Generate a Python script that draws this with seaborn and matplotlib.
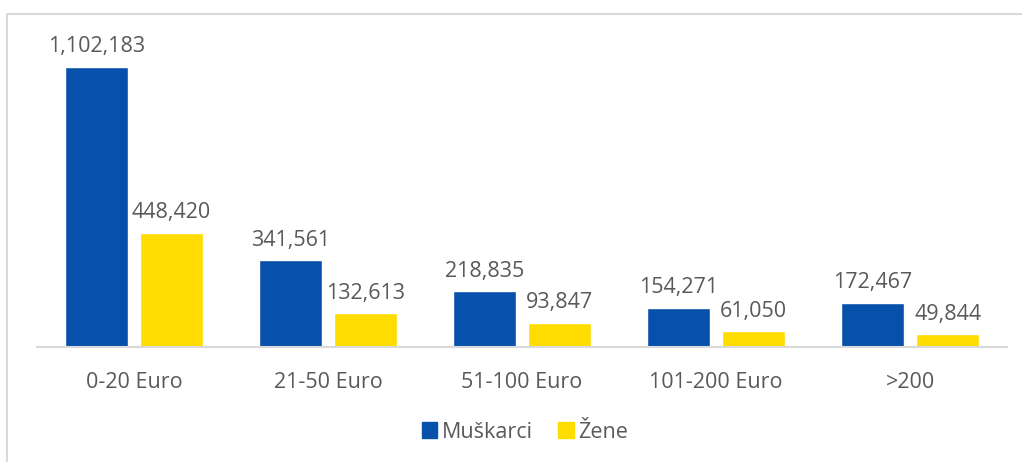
import matplotlib
matplotlib.use("Agg")
import matplotlib.pyplot as plt
import seaborn as sns
import pandas as pd
from matplotlib.lines import Line2D

categories = ["0-20 Euro", "21-50 Euro", "51-100 Euro", "101-200 Euro", ">200"]
muskarci = [1102183, 341561, 218835, 154271, 172467]
zene = [448420, 132613, 93847, 61050, 49844]
series_names = ["Muškarci", "Žene"]
colors = ["#0751AB", "#FFDD00"]

df = pd.DataFrame({
    "cat": categories * 2,
    "val": muskarci + zene,
    "ser": [series_names[0]] * len(categories) + [series_names[1]] * len(categories),
})

sns.set_style("white")
plt.rcParams["font.family"] = ["Open Sans", "DejaVu Sans"]
txt = "#595959"
fs = 15.5

fig = plt.figure(figsize=(10.22, 4.62), dpi=100)
ax = fig.add_axes([37/1022, (462-347)/462, (1007-37)/1022, 327/462])
sns.barplot(data=df, x="cat", y="val", hue="ser", palette=colors, ax=ax,
            width=0.775, gap=0.17, saturation=1, legend=False)

ax.set_ylim(0, 1102183 * 327 / 280)
ax.set_xlim(-0.5, 4.5)
for s in ["top", "right", "left"]:
    ax.spines[s].set_visible(False)
ax.spines["bottom"].set_color("#D9D9D9")
ax.spines["bottom"].set_linewidth(1.5)
ax.set_yticks([])
ax.set_xlabel("")
ax.set_ylabel("")
ax.tick_params(axis="x", length=0, pad=18, labelsize=fs, labelcolor=txt)

for cont in ax.containers:
    ax.bar_label(cont, labels=[f"{v:,.0f}" for v in cont.datavalues],
                 padding=7, fontsize=fs, color=txt)

handles = [plt.Rectangle((0, 0), 1, 1, color=c) for c in colors]
fig.legend(handles, series_names, loc="center", bbox_to_anchor=(525/1022, 1 - 432/462),
           ncol=2, frameon=False, fontsize=fs, labelcolor=txt,
           handlelength=0.7, handleheight=0.7, handletextpad=0.2, columnspacing=1.2)

fig.add_artist(Line2D([7/1022, 1.0], [1 - 14/462, 1 - 14/462], color="#D9D9D9", lw=1.5))
fig.add_artist(Line2D([7/1022, 7/1022], [0, 1 - 14/462], color="#D9D9D9", lw=1.5))

fig.savefig("out.png", dpi=100)
